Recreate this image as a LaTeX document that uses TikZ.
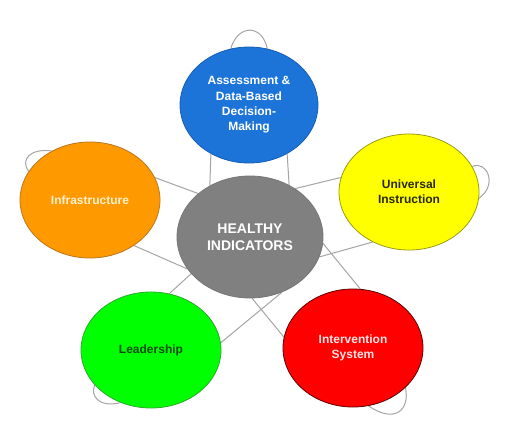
\documentclass[tikz,border=0pt]{standalone}
\usepackage{fontspec}
\setmainfont{Liberation Sans}
\usetikzlibrary{shapes.geometric}
\pgfdeclarelayer{bg}
\pgfsetlayers{bg,main}
\definecolor{cblue}{RGB}{28,116,217}
\definecolor{cblueb}{RGB}{22,92,180}
\definecolor{corange}{RGB}{255,153,0}
\definecolor{corangeb}{RGB}{185,118,30}
\definecolor{corangetxt}{RGB}{255,242,205}
\definecolor{cyellow}{RGB}{255,255,0}
\definecolor{cyellowb}{RGB}{155,155,20}
\definecolor{cyellowtxt}{RGB}{40,40,20}
\definecolor{cgray}{RGB}{128,128,128}
\definecolor{cgrayb}{RGB}{118,118,118}
\definecolor{cgreen}{RGB}{0,255,0}
\definecolor{cgreenb}{RGB}{40,170,40}
\definecolor{cgreentxt}{RGB}{15,75,15}
\definecolor{cred}{RGB}{255,0,0}
\definecolor{credb}{RGB}{95,0,0}
\definecolor{credtxt}{RGB}{255,228,228}
\definecolor{linkgray}{RGB}{165,165,165}
\begin{document}
\begin{tikzpicture}[x=1pt,y=-1pt,
  bubble/.style={ellipse, inner sep=0pt, line width=0.8pt, align=center,
    minimum width=140pt, minimum height=116pt,
    font=\bfseries\fontsize{12}{15.3}\selectfont},
  link/.style={draw=linkgray, line width=1pt},
]
\node[bubble, fill=cblue, draw=cblueb, text=white, minimum width=138pt] (assess) at (249,105)
  {Assessment \&\\Data-Based\\Decision-\\Making};
\node[bubble, fill=corange, draw=corangeb, text=corangetxt] (infra) at (90,200) {Infrastructure};
\node[bubble, fill=cyellow, draw=cyellowb, text=cyellowtxt] (univ) at (409,192) {Universal\\Instruction};
\node[bubble, fill=cgreen, draw=cgreenb, text=cgreentxt] (lead) at (151,350) {Leadership};
\node[bubble, fill=cred, draw=credb, text=credtxt, minimum height=118pt] (interv) at (353,348) {Intervention\\System};
\node[bubble, fill=cgray, draw=cgrayb, text=white, minimum width=146pt, minimum height=122pt,
  font=\bfseries\fontsize{14}{17}\selectfont] (core) at (250,237) {HEALTHY\\INDICATORS};
\begin{pgfonlayer}{bg}
\fill[white] (0,0) rectangle (512,432);
% connectors
\draw[link] (assess.232) -- (core.128);
\draw[link] (assess.308) -- (core.53);
\draw[link] (infra.19) -- (core.140);
\draw[link] (infra.314) -- (core.207);
\draw[link] (univ.168) -- (core.47);
\draw[link] (univ.234) -- (core.-16);
\draw[link] (core.-5) -- (interv.83);
\draw[link] (core.-88) -- (interv.171);
\draw[link] (lead.72) -- (core.212);
\draw[link] (lead.6) -- (core.300);
% loops
\draw[link] (assess.108) .. controls (238,24) and (262,24) .. (assess.72);
\draw[link] (infra.128) .. controls (30,148) and (20,160) .. (infra.155);
\draw[link] (univ.22) .. controls (487,160) and (498,185) .. (univ.-5);
\draw[link] (lead.212) .. controls (90,395) and (98,408) .. (lead.240);
\draw[link] (interv.-37) .. controls (410,410) and (395,424) .. (interv.-75);
\end{pgfonlayer}
\end{tikzpicture}
\end{document}
